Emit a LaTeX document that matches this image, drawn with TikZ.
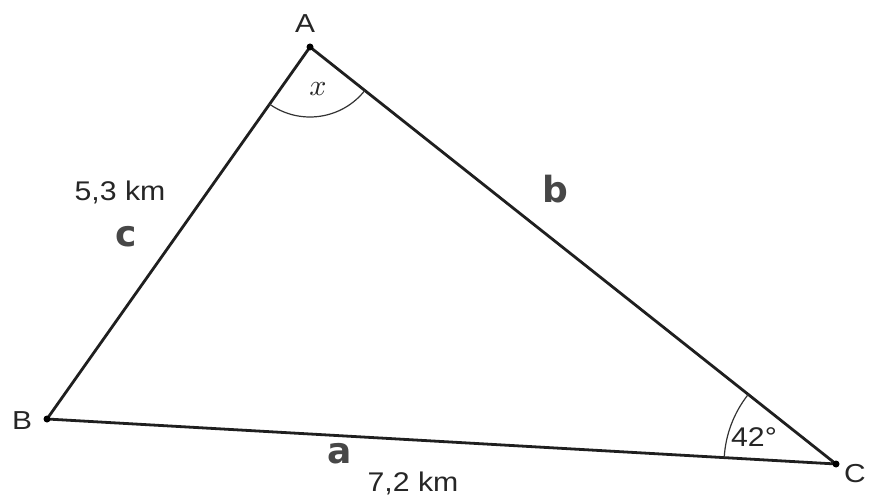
\documentclass[tikz,border=0pt]{standalone}
\usepackage{fontspec}
\setmainfont{Liberation Sans}
\newfontfamily\handfont{DejaVu Sans}
\usetikzlibrary{angles,quotes}
\tikzset{
  side/.style={line width=2.8pt, draw=black!88},
  vdot/.style={circle, fill=black, inner sep=0pt, minimum size=7pt},
  vlabel/.style={font=\fontsize{26}{28}\selectfont, text=black!85, xscale=1.15},
  meas/.style={font=\fontsize{27}{30}\selectfont, text=black!85, xscale=1.12},
  hand/.style={font=\handfont\bfseries\fontsize{36}{38}\selectfont, text=black!72},
  anglearc/.style={draw=black!80, line width=1.2pt}
}
\begin{document}
\begin{tikzpicture}[x=1pt,y=1pt]
  \useasboundingbox (0,0) rectangle (869,501);
  \fill[white] (0,0) rectangle (869,501);
  \coordinate (A) at (310,454);
  \coordinate (B) at (47,82);
  \coordinate (C) at (836,37);
  \draw[side, line join=round] (A) -- (B) -- (C) -- cycle;
  \node[vdot] (dA) at (A) {};
  \node[vdot] (dB) at (B) {};
  \node[vdot] (dC) at (C) {};
  \pic[anglearc, angle radius=70pt] {angle = B--A--C};
  \pic[anglearc, angle radius=112pt] {angle = A--C--B};
  \node[vlabel] (lA) at (305,477) {A};
  \node[vlabel] (lB) at (22,80) {B};
  \node[vlabel] (lC) at (855,27) {C};
  \node[scale=3, text=black!85] (lx) at (318,412) {$x$};
  \node[meas] (l42) at (754,64) {42°};
  \node[meas] (lc) at (120,309) {5,3 km};
  \node[meas] (la) at (413,18) {7,2 km};
  \node[hand] (hc) at (126,264) {c};
  \node[hand] (hb) at (555,312) {b};
  \node[hand] (ha) at (340,47) {a};
\end{tikzpicture}
\end{document}
